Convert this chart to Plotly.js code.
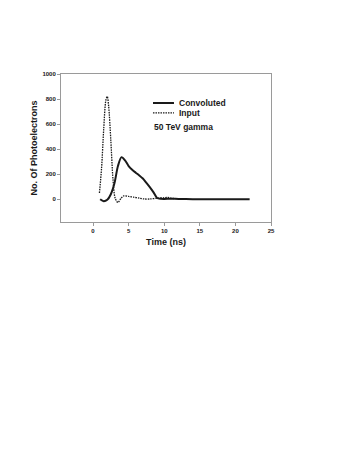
<!DOCTYPE html>
<html>
<head>
<meta charset="utf-8">
<script src="https://cdn.plot.ly/plotly-3.0.1.min.js"></script>
<style>
  html, body { margin: 0; padding: 0; background: #fff; }
  #chart { width: 360px; height: 466px; }
</style>
</head>
<body>
<div id="chart"></div>
<script>
// --- data ---
const convX = [1.0, 1.5, 2.0, 2.5, 3.0, 3.5, 4.0, 4.5, 5.0, 5.5, 6.0, 6.5, 7.0, 7.5, 8.0, 8.5, 9.0, 9.5, 10, 11, 12, 14, 16, 18, 20, 22];
const convY = [0, -16, -5, 40, 125, 265, 336, 310, 265, 235, 212, 190, 165, 130, 95, 55, 10, 3, 2, 4, 2, 0, 0, 0, 0, 0];

const inputX = [0.9, 1.2, 1.5, 1.8, 2.0, 2.2, 2.5, 2.8, 3.1, 3.5, 3.9, 4.3, 5.0, 5.7, 6.5, 7.2, 8.0, 9.0, 10.0, 10.5, 11.0, 12.0, 13.0];
const inputY = [50, 250, 560, 790, 820, 740, 470, 160, 10, -27, 5, 26, 22, 16, 8, 2, 2, 8, 12, 14, 8, 3, 0];

const xTicks = [0, 5, 10, 15, 20, 25];
const yTicks = [0, 200, 400, 600, 800, 1000];

const seriesNames = ['Convoluted', 'Input'];
const noteText = '50 TeV gamma';

const FONT = 'Liberation Sans, Arial, sans-serif';
const INK = '#1a1a1a';
const FRAME = '#9a9a9a';
const DOTS = '1.5px,1px';

const traces = [
    {
        x: convX, y: convY, name: seriesNames[0],
        mode: 'lines', line: { color: INK, width: 2, shape: 'spline', smoothing: 0.8 },
        showlegend: false, hoverinfo: 'none'
    },
    {
        x: inputX, y: inputY, name: seriesNames[1],
        mode: 'lines', line: { color: INK, width: 1.3, dash: DOTS, shape: 'spline', smoothing: 0.8 },
        showlegend: false, hoverinfo: 'none'
    }
];

// hand-drawn legend, like the original figure
const legendRows = [
    { y: 0.804, dash: 'solid', width: 2 },
    { y: 0.737, dash: DOTS, width: 1.3 }
];
const shapes = legendRows.map(r => ({
    type: 'line', xref: 'paper', yref: 'paper',
    x0: 0.438, x1: 0.538, y0: r.y, y1: r.y,
    line: { color: INK, width: r.width, dash: r.dash }
}));
const annotations = legendRows.map((r, i) => ({
    xref: 'paper', yref: 'paper', x: 0.55, y: r.y,
    xanchor: 'left', yanchor: 'middle', showarrow: false,
    text: '<b>' + seriesNames[i] + '</b>',
    font: { family: FONT, size: 8.5, color: INK }
}));
annotations.push({
    xref: 'paper', yref: 'paper', x: 0.432, y: 0.642,
    xanchor: 'left', yanchor: 'middle', showarrow: false,
    text: '<b>' + noteText + '</b>',
    font: { family: FONT, size: 8.5, color: INK }
});

const layout = {
    width: 360, height: 466,
    margin: { l: 61, r: 89, t: 74, b: 244 },
    paper_bgcolor: '#fff', plot_bgcolor: '#fff',
    showlegend: false,
    font: { family: FONT, color: INK },
    xaxis: {
        range: [-4.5, 25], tickvals: xTicks, ticktext: xTicks.map(v => '<b>' + v + '</b>'),
        showgrid: false, zeroline: false,
        showline: true, mirror: true, linecolor: FRAME, linewidth: 1,
        ticks: 'outside', ticklen: 3, tickcolor: FRAME, tickwidth: 1,
        tickfont: { family: FONT, size: 6, color: INK },
        title: { text: '<b>Time (ns)</b>', font: { family: FONT, size: 9, color: INK }, standoff: 5 }
    },
    yaxis: {
        range: [-182, 1000], tickvals: yTicks, ticktext: yTicks.map(v => '<b>' + v + '</b>'),
        showgrid: false, zeroline: false,
        showline: true, mirror: true, linecolor: FRAME, linewidth: 1,
        ticks: 'outside', ticklen: 3, tickcolor: FRAME, tickwidth: 1,
        tickfont: { family: FONT, size: 6, color: INK },
        title: { text: '<b>No. Of Photoelectrons</b>', font: { family: FONT, size: 9, color: INK }, standoff: 3 }
    },
    shapes: shapes,
    annotations: annotations
};

Plotly.newPlot('chart', traces, layout, { displayModeBar: false, staticPlot: true });
</script>
</body>
</html>
